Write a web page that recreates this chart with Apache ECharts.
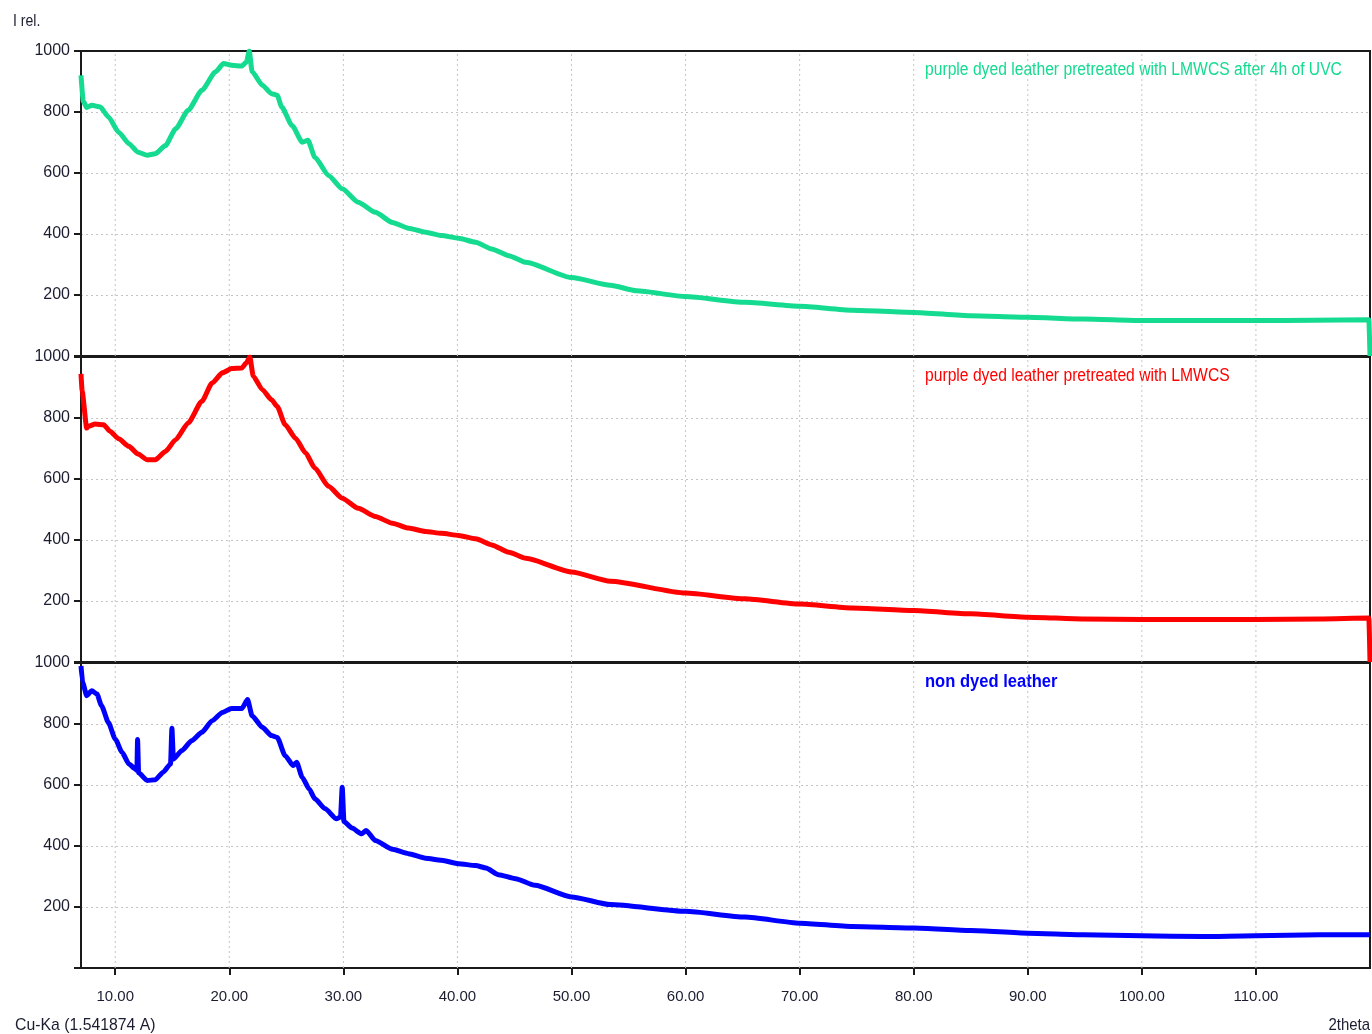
<!DOCTYPE html>
<html>
<head>
<meta charset="utf-8">
<script src="https://cdn.jsdelivr.net/npm/echarts@6/dist/echarts.min.js"></script>
<style>
  html, body { margin: 0; padding: 0; background: #fff; }
  #main { width: 1372px; height: 1034px; }
</style>
</head>
<body>
<div id="main"></div>
<script>
// 2theta tick positions
const thetaTicks = [10, 20, 30, 40, 50, 60, 70, 80, 90, 100, 110]

// purple dyed leather pretreated with LMWCS after 4h of UVC (top panel)
const uvcTheta = [7.0, 7.2, 7.5, 7.95, 8.7, 9.4, 10.3, 11.2, 12.0, 12.8, 13.5, 14.4, 15.3, 16.4, 17.6, 18.8, 19.5, 20.2, 21.1, 21.5, 21.75, 22.0, 22.9, 23.7, 24.2, 24.6, 25.5, 26.4, 26.9, 27.5, 28.7, 29.9, 31.3, 32.8, 34.3, 35.7, 37.2, 38.6, 40.1, 41.6, 43.0, 44.5, 46.0, 50, 53.4, 55.7, 60, 65.2, 70, 74.6, 80, 85, 90, 94.9, 100, 105.2, 110, 115, 119.9, 120]
const uvcIntensity = [920, 835, 815, 822, 816, 784, 734, 696, 668, 658, 663, 690, 745, 806, 871, 932, 959, 953, 951, 964, 1000, 932, 888, 860, 855, 816, 756, 701, 707, 652, 592, 548, 504, 471, 438, 419, 406, 395, 386, 373, 351, 329, 307, 257, 232, 214, 195, 176, 163, 150, 143, 132, 127, 121, 116, 116, 116, 117, 119, 0]

// purple dyed leather pretreated with LMWCS (middle panel)
const lmwcsTheta = [7.0, 7.1, 7.5, 7.66, 8.25, 8.98, 9.56, 10.3, 11.2, 12.0, 12.8, 13.5, 14.4, 15.3, 16.4, 17.6, 18.5, 19.4, 20.2, 21.1, 21.5, 21.8, 22.1, 22.9, 23.7, 24.2, 24.9, 25.8, 26.7, 27.5, 28.7, 29.9, 31.3, 32.8, 34.3, 35.7, 37.2, 38.6, 40.1, 41.6, 43.0, 44.5, 46.0, 50, 53.4, 60, 65.2, 70, 74.6, 80, 85, 90, 94.9, 100, 105.2, 110, 115.6, 119.9, 120]
const lmwcsIntensity = [945, 888, 767, 773, 780, 778, 756, 732, 707, 682, 663, 663, 690, 729, 784, 855, 915, 948, 962, 964, 981, 1000, 937, 893, 860, 838, 778, 734, 685, 636, 576, 537, 504, 477, 455, 439, 428, 422, 415, 404, 384, 360, 340, 295, 265, 226, 207, 190, 177, 169, 158, 147, 141, 139, 139, 139, 141, 144, 0]

// non dyed leather (bottom panel)
const nonDyedTheta = [7.0, 7.15, 7.5, 7.95, 8.4, 8.8, 9.4, 10.0, 10.6, 11.2, 11.75, 11.9, 11.96, 12.05, 12.8, 13.5, 14.2, 14.85, 14.97, 15.1, 15.85, 16.7, 17.6, 18.5, 19.4, 20.2, 21.1, 21.6, 22.0, 22.9, 23.7, 24.2, 24.9, 25.6, 25.9, 26.4, 27.0, 27.5, 28.4, 29.4, 29.75, 29.9, 30.05, 30.75, 31.6, 32.0, 32.8, 34.3, 35.7, 37.2, 38.6, 40.1, 41.6, 42.5, 43.6, 45.1, 46.8, 50, 53.4, 60, 65.2, 70, 74.6, 80, 85, 90, 94.9, 100, 105.2, 110, 115.6, 120]
const nonDyedIntensity = [990, 936, 893, 909, 898, 860, 805, 751, 707, 669, 653, 648, 749, 640, 615, 617, 642, 669, 786, 685, 713, 745, 773, 811, 838, 851, 851, 880, 827, 789, 762, 756, 696, 664, 675, 625, 587, 555, 522, 489, 495, 593, 480, 459, 440, 451, 418, 389, 375, 360, 353, 342, 336, 328, 306, 293, 271, 233, 208, 186, 167, 147, 136, 131, 123, 114, 109, 106, 103, 106, 109, 109]

const panels = [
  { name: 'purple dyed leather pretreated with LMWCS after 4h of UVC', theta: uvcTheta, values: uvcIntensity, color: '#14DB8F', bold: false },
  { name: 'purple dyed leather pretreated with LMWCS', theta: lmwcsTheta, values: lmwcsIntensity, color: '#FF0000', bold: false },
  { name: 'non dyed leather', theta: nonDyedTheta, values: nonDyedIntensity, color: '#0000FF', bold: true }
]

const panelTops = [51, 357, 663]
const panelHeight = 305
const axisColor = '#1a1a1a'
const labelColor = '#1c1c30'
const gridLineColor = '#c4c4c4'
const textFont = 'Liberation Sans, Arial, sans-serif'

const myChart = echarts.init(document.getElementById('main'))

const grids = panelTops.map(top => ({
  left: 81,
  right: 2,
  top: top,
  height: panelHeight,
  show: true,
  borderColor: axisColor,
  borderWidth: 2
}))

const xAxes = panels.map((p, i) => {
  const isBottom = i === panels.length - 1
  return {
    type: 'value',
    gridIndex: i,
    min: 7,
    max: 120,
    axisLine: { show: true, lineStyle: { color: axisColor, width: 2 } },
    axisTick: {
      show: isBottom,
      customValues: thetaTicks,
      length: 7,
      lineStyle: { color: axisColor, width: 2 }
    },
    axisLabel: {
      show: isBottom,
      customValues: thetaTicks,
      formatter: v => v.toFixed(2),
      fontFamily: textFont,
      fontSize: 15,
      color: labelColor,
      margin: 21
    },
    splitLine: { show: false }
  }
})

const yAxes = panels.map((p, i) => ({
  type: 'value',
  gridIndex: i,
  min: 0,
  max: 1000,
  interval: 200,
  axisLine: { show: true, lineStyle: { color: axisColor, width: 2 } },
  axisTick: { show: true, length: 7, lineStyle: { color: axisColor, width: 2 } },
  axisLabel: {
    formatter: v => (v === 0 ? '' : String(v)),
    fontFamily: textFont,
    fontSize: 16,
    color: labelColor,
    margin: 11
  },
  splitLine: {
    show: true,
    showMinLine: false,
    showMaxLine: false,
    lineStyle: { color: gridLineColor, type: [2, 3], width: 1 }
  }
}))

const series = []
panels.forEach((p, i) => {
  // vertical dotted grid lines at the 2theta ticks, broken by nulls
  const vLines = []
  thetaTicks.forEach(t => {
    vLines.push([t, 0], [t, 1000], null)
  })
  series.push({
    type: 'line',
    xAxisIndex: i,
    yAxisIndex: i,
    data: vLines,
    z: 1,
    silent: true,
    showSymbol: false,
    connectNulls: false,
    lineStyle: { color: gridLineColor, type: [2, 3], width: 1 }
  })
  series.push({
    name: p.name,
    type: 'line',
    xAxisIndex: i,
    yAxisIndex: i,
    data: p.theta.map((t, k) => [t, p.values[k]]),
    showSymbol: false,
    smooth: 0.2,
    smoothMonotone: 'x',
    z: 3,
    lineStyle: { color: p.color, width: 5, join: 'round' },
    itemStyle: { color: p.color }
  })
})

const plainText = (text, x, y, size, color, weight, align, sx) => ({
  type: 'text',
  x: x,
  y: y,
  scaleX: sx || 0.88,
  silent: true,
  style: {
    text: text,
    fill: color,
    font: (weight || 'normal') + ' ' + size + 'px ' + textFont,
    align: align || 'left',
    verticalAlign: 'middle'
  }
})

const texts = [
  plainText('I rel.', 13, 22, 16, labelColor),
  plainText('Cu-Ka (1.541874 A)', 15, 1025, 17, labelColor, 'normal', 'left', 0.93),
  plainText('2theta', 1370, 1025, 17, labelColor, 'normal', 'right')
].concat(panels.map((p, i) => plainText(p.name, 925, panelTops[i] + 19, 18, p.color, p.bold ? 'bold' : 'normal', 'left', p.bold ? 0.92 : 0.87)))

myChart.setOption({
  animation: false,
  backgroundColor: '#fff',
  grid: grids,
  xAxis: xAxes,
  yAxis: yAxes,
  series: series,
  graphic: texts
})
</script>
</body>
</html>
